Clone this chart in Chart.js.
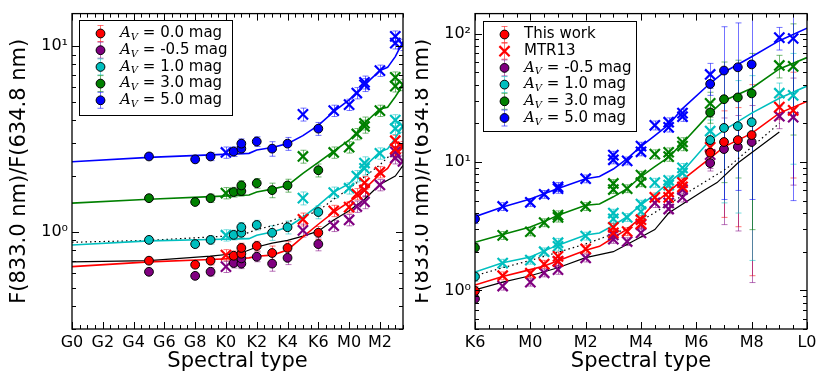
<!DOCTYPE html>
<html lang="en">
<head>
<meta charset="UTF-8">
<title>F(833.0 nm)/F(634.8 nm) vs spectral type</title>
<script src="https://cdn.jsdelivr.net/npm/chart.js"></script>
<style>
    body { margin: 0; background: #fff; }
    #wrap { position: relative; width: 830px; height: 388px; }
    canvas { position: absolute; top: 0; }
    #left { left: 0; }
    #right { left: 415px; }
</style>
</head>
<body>
<div id="wrap">
    <canvas id="left" width="415" height="388"></canvas>
    <canvas id="right" width="415" height="388"></canvas>
</div>
<script>
// ---- tick labels ----
const leftTicks = ['G0', 'G2', 'G4', 'G6', 'G8', 'K0', 'K2', 'K4', 'K6', 'M0', 'M2'];
const rightTicks = ['K6', 'M0', 'M2', 'M4', 'M6', 'M8', 'L0'];
const leftDecades = [1, 10];
const rightDecades = [1, 10, 100];
const decadeLabels = ['10⁰', '10¹', '10²'];

// ---- this work (circles) ----
const workTypes = ['G5', 'G8', 'G9', 'K0.5', 'K1', 'K1', 'K2', 'K3', 'K4', 'K6', 'M6.5', 'M7', 'M7.5', 'M8'];
const workErr = [0.02, 0.03, 0.05, 0.06, 0.06, 0.06, 0.06, 0.09, 0.08, 0.08, null, null, null, null];
const workRed = [0.70, 0.666, 0.70, 0.744, 0.763, 0.82, 0.84, 0.77, 0.82, 0.99, 11.8, 14.3, 14.8, 16.2];
const workPurple = [0.61, 0.58, 0.61, 0.68, 0.675, 0.72, 0.735, 0.675, 0.725, 0.86, 9.8, 12.6, 13.1, 14.3];
const workCyan = [0.906, 0.86, 0.906, 0.964, 0.99, 1.06, 1.09, 0.99, 1.06, 1.28, 14.8, 18.4, 19.0, 20.4];
const workGreen = [1.52, 1.45, 1.52, 1.64, 1.66, 1.78, 1.83, 1.68, 1.78, 2.15, 24.3, 30.8, 31.8, 34.2];
const workBlue = [2.55, 2.46, 2.55, 2.71, 2.81, 2.99, 3.07, 2.81, 2.99, 3.6, 40.5, 51.5, 54.6, 57.5];

// ---- MTR13 (crosses) ----
const mtrTypes = ['K0', 'K5', 'K7', 'M0', 'M0.5', 'M1', 'M1', 'M2', 'M3', 'M3', 'M3.5', 'M4', 'M4',
    'M4.5', 'M5', 'M5', 'M5.5', 'M5.5', 'M6.5', 'M9', 'M9.5'];
const mtrErr = [0.07, 0.08, 0.07, 0.07, 0.07, 0.08, 0.08, 0.07, 0.07, 0.07, 0.07, 0.07, 0.07,
    0.08, 0.08, 0.08, 0.08, 0.08, 0.22, 0.2, null];
const mtrRed = [0.75, 1.17, 1.3, 1.36, 1.6, 1.84, 1.68, 2.1, 3.1, 2.8, 2.87, 3.55, 3.3, 5.3, 5.85, 5.3, 6.9, 6.4, 13, 26.7, 25.2];
const mtrPurple = [0.65, 1.02, 1.08, 1.16, 1.37, 1.68, 1.45, 1.79, 2.7, 2.5, 2.4, 3.25, 2.8, 4.8, 4.8, 4.3, 6.1, 5.3, 11.4, 22.7, 22.3];
const mtrCyan = [0.96, 1.52, 1.63, 1.72, 2.0, 2.35, 2.2, 2.65, 4.0, 3.6, 3.7, 4.7, 4.1, 6.9, 7.2, 6.6, 9.0, 8.2, 17.4, 34.3, 33];
const mtrGreen = [1.62, 2.55, 2.68, 2.86, 3.37, 3.85, 3.7, 4.5, 6.8, 6.1, 6.2, 7.9, 6.9, 11.5, 11.9, 11.0, 14.3, 13.3, 28.6, 56.4, 55.5];
const mtrBlue = [2.68, 4.3, 4.5, 4.85, 5.6, 6.4, 6.2, 7.4, 11.3, 10.4, 10.2, 13.3, 12.0, 19.3, 20.4, 18.6, 24, 22.5, 48, 93, 91.5];

// bar ends for the large late-M errors: M6.5, M7, M7.5, M8 circles, then the M9.5 cross
const redBarLo = [10, 3.7, 3.13, 1.3, 7.5];
const redBarHi = [14, 25, 26.5, 40, 50];
const purpleBarLo = [8.5, 3.25, 2.9, 1.15, 6.6];
const purpleBarHi = [11.5, 22, 23, 27.5, 45];
const cyanBarLo = [12.5, 4.8, 4.0, 1.71, 9.6];
const cyanBarHi = [17.5, 32, 43, 47, 70];
const greenBarLo = [20, 6.9, 7.5, 2.97, 16.2];
const greenBarHi = [29, 60, 62, 70, 119];
const blueBarLo = [33, 5.1, 6, 5.1, 5];
const blueBarHi = [50, 113, 121, 170, 180];

// ---- model curves ----
const modelTypes = ['G0', 'G5', 'G9', 'K1.5', 'K2', 'K3', 'K4', 'K5', 'K6', 'K7', 'M0', 'M0.5', 'M1', 'M2',
    'M2.5', 'M3', 'M3.5', 'M4', 'M4.5', 'M5', 'M5.5', 'M6.5', 'M7', 'M8', 'M9', 'L0'];
const modelRed = [0.65, 0.69, 0.71, 0.725, 0.74, 0.75, 0.8, 0.94, 1.1, 1.28, 1.45, 1.55, 1.7, 2.05,
    2.2, 2.57, 3.0, 3.68, 4.8, 5.85, 7.25, 10.7, 13.1, 16.7, 24, 29.6];
const modelCyan = [0.85, 0.895, 0.91, 0.92, 0.96, 1.0, 1.06, 1.2, 1.39, 1.64, 1.82, 2.03, 2.25, 2.7,
    2.8, 3.2, 3.75, 4.63, 5.6, 6.9, 8.4, 14.8, 17.7, 24, 31.3, 39];
const modelGreen = [1.43, 1.5, 1.55, 1.58, 1.64, 1.7, 1.78, 2.07, 2.37, 2.72, 3.12, 3.43, 3.85, 4.6,
    4.7, 5.35, 6.2, 7.7, 9.2, 10.9, 14, 24, 30, 37.5, 53, 65];
const modelBlue = [2.39, 2.52, 2.6, 2.65, 2.76, 2.85, 2.99, 3.3, 3.75, 4.45, 5.15, 5.65, 6.2, 7.4,
    7.7, 8.8, 10.6, 13.2, 16, 19.5, 26, 41, 50, 66, 88, 110];
const blackTypes = ['G0', 'G5', 'G9', 'K1', 'K2', 'K3', 'K4', 'K5', 'K6', 'K7', 'M0', 'M1', 'M2', 'M3',
    'M4', 'M4.5', 'M5', 'M6.3', 'M6.75', 'M7.5', 'M9'];
const blackModel = [0.69, 0.7, 0.74, 0.77, 0.83, 0.87, 0.9, 0.95, 1.01, 1.16, 1.3, 1.5, 1.8, 2.0,
    2.6, 2.97, 4.0, 6.05, 6.9, 9.8, 17.1];
const dottedTypes = ['G0', 'G5', 'K1', 'K2', 'K4', 'K6', 'K7', 'M0', 'M1', 'M2', 'M3', 'M3.5', 'M4.3', 'M7.1', 'M9'];
const dottedModel = [0.88, 0.9, 0.96, 1.03, 1.13, 1.3, 1.5, 1.71, 1.98, 2.3, 2.75, 3.05, 3.8, 8.9, 20];

const legendAv = ['0.0', '-0.5', '1.0', '3.0', '5.0'];

// ---- helpers ----
const classStart = { G: 0, K: 10, M: 18, L: 28 };
function spt(s) {
    return classStart[s[0]] + parseFloat(s.slice(1));
}
function pts(types, vals) {
    return types.map((t, i) => ({ x: spt(t), y: vals[i] }));
}
function bars(vals, rel, lo, hi, k) {
    const l = [], h = [];
    vals.forEach((v, i) => {
        if (rel[i] != null) {
            l.push(v * (1 - rel[i]));
            h.push(v * (1 + rel[i]));
        } else {
            l.push(lo[k]);
            h.push(hi[k]);
            k++;
        }
    });
    return [l, h];
}

const series = [
    { av: '0.0', colour: '#ff0000', bar: 'rgba(255,0,0,0.55)', work: workRed, mtr: mtrRed, model: modelRed, lo: redBarLo, hi: redBarHi },
    { av: '-0.5', colour: '#800080', bar: 'rgba(128,0,128,0.55)', work: workPurple, mtr: mtrPurple, model: null, lo: purpleBarLo, hi: purpleBarHi },
    { av: '1.0', colour: '#00bfbf', bar: 'rgba(0,191,191,0.55)', work: workCyan, mtr: mtrCyan, model: modelCyan, lo: cyanBarLo, hi: cyanBarHi },
    { av: '3.0', colour: '#008000', bar: 'rgba(0,128,0,0.55)', work: workGreen, mtr: mtrGreen, model: modelGreen, lo: greenBarLo, hi: greenBarHi },
    { av: '5.0', colour: '#0000ff', bar: 'rgba(0,0,255,0.55)', work: workBlue, mtr: mtrBlue, model: modelBlue, lo: blueBarLo, hi: blueBarHi }
];

const CIRCLE_R = 4.4;
const CROSS_R = 7.2;

function makeDatasets() {
    const out = [];
    out.push({ type: 'line', data: pts(blackTypes, blackModel), borderColor: '#000', borderWidth: 1.2,
        pointRadius: 0, tension: 0, fill: false, order: 4, clip: 0 });
    out.push({ type: 'line', data: pts(dottedTypes, dottedModel), borderColor: '#000', borderWidth: 1.2,
        borderDash: [1.5, 3], pointRadius: 0, tension: 0, fill: false, order: 4, clip: 0 });
    series.forEach(s => {
        if (s.model) {
            out.push({ type: 'line', data: pts(modelTypes, s.model), borderColor: s.colour, borderWidth: 1.6,
                pointRadius: 0, tension: 0, fill: false, order: 3, clip: 0 });
        }
        const mb = bars(s.mtr, mtrErr, s.lo, s.hi, 4);
        out.push({ data: pts(mtrTypes, s.mtr), pointStyle: 'crossRot', pointRadius: CROSS_R,
            pointBorderWidth: 2.2, borderColor: s.colour, backgroundColor: s.colour, showLine: false,
            order: 2, clip: 0, errLo: mb[0], errHi: mb[1], errColour: s.bar });
        const wb = bars(s.work, workErr, s.lo, s.hi, 0);
        out.push({ data: pts(workTypes, s.work), pointStyle: 'circle', pointRadius: CIRCLE_R,
            pointBorderWidth: 1, borderColor: '#000', backgroundColor: s.colour, showLine: false,
            order: 1, clip: 0, errLo: wb[0], errHi: wb[1], errColour: s.bar });
    });
    return out;
}

// error bars drawn under the markers
const errorBars = {
    id: 'errorBars',
    beforeDatasetsDraw(chart) {
        const { ctx, chartArea: a, scales: { x, y } } = chart;
        ctx.save();
        ctx.beginPath();
        ctx.rect(a.left, a.top, a.width, a.height);
        ctx.clip();
        ctx.lineWidth = 1;
        chart.data.datasets.forEach(ds => {
            if (!ds.errLo) return;
            ctx.strokeStyle = ds.errColour;
            ctx.beginPath();
            ds.data.forEach((p, i) => {
                const px = Math.round(x.getPixelForValue(p.x)) + 0.5;
                const lo = ds.errLo[i] > 0 ? y.getPixelForValue(ds.errLo[i]) : a.bottom + 10;
                const hi = y.getPixelForValue(ds.errHi[i]);
                ctx.moveTo(px, lo); ctx.lineTo(px, hi);
                ctx.moveTo(px - 3, lo); ctx.lineTo(px + 3, lo);
                ctx.moveTo(px - 3, hi); ctx.lineTo(px + 3, hi);
            });
            ctx.stroke();
        });
        ctx.restore();
    }
};

// matplotlib style frame with inward ticks on all sides
const frame = {
    id: 'frame',
    afterDatasetsDraw(chart) {
        const { ctx, chartArea: a, scales: { x, y } } = chart;
        ctx.save();
        ctx.strokeStyle = '#000';
        ctx.lineWidth = 1;
        ctx.beginPath();
        for (let v = Math.ceil(x.min * 2) / 2; v <= x.max + 1e-9; v += 0.5) {
            const px = Math.round(x.getPixelForValue(v)) + 0.5;
            const len = v % 2 === 0 ? 7 : 4;
            ctx.moveTo(px, a.bottom); ctx.lineTo(px, a.bottom - len);
            ctx.moveTo(px, a.top); ctx.lineTo(px, a.top + len);
        }
        for (let d = Math.floor(Math.log10(y.min)); d <= Math.ceil(Math.log10(y.max)); d++) {
            for (let m = 1; m < 10; m++) {
                const v = m * Math.pow(10, d);
                if (v < y.min || v > y.max) continue;
                const py = Math.round(y.getPixelForValue(v)) + 0.5;
                const len = m === 1 ? 7 : 4;
                ctx.moveTo(a.left, py); ctx.lineTo(a.left + len, py);
                ctx.moveTo(a.right, py); ctx.lineTo(a.right - len, py);
            }
        }
        ctx.stroke();
        ctx.lineWidth = 1.3;
        ctx.strokeRect(a.left, a.top, a.width, a.height);
        ctx.restore();
    }
};

function legendPlugin(rows, dx, dy, w, h) {
    return {
        id: 'legendBox',
        afterDraw(chart) {
            const { ctx, chartArea: a } = chart;
            const bx = Math.round(a.left + dx), by = Math.round(a.top + dy);
            ctx.save();
            ctx.fillStyle = '#fff';
            ctx.fillRect(bx, by, w, h);
            ctx.strokeStyle = '#000';
            ctx.lineWidth = 1;
            ctx.strokeRect(bx + 0.5, by + 0.5, w, h);
            rows.forEach((r, i) => {
                const cy = by + 13.5 + i * 16.7;
                const mx = bx + 21.5;
                ctx.strokeStyle = r.bar;
                ctx.lineWidth = 1;
                ctx.beginPath();
                ctx.moveTo(mx, cy - 8); ctx.lineTo(mx, cy + 8);
                ctx.moveTo(mx - 3, cy - 8); ctx.lineTo(mx + 3, cy - 8);
                ctx.moveTo(mx - 3, cy + 8); ctx.lineTo(mx + 3, cy + 8);
                ctx.stroke();
                if (r.cross) {
                    const c = CROSS_R * Math.SQRT1_2;
                    ctx.strokeStyle = r.colour;
                    ctx.lineWidth = 2.2;
                    ctx.beginPath();
                    ctx.moveTo(mx - c, cy - c); ctx.lineTo(mx + c, cy + c);
                    ctx.moveTo(mx - c, cy + c); ctx.lineTo(mx + c, cy - c);
                    ctx.stroke();
                } else {
                    ctx.fillStyle = r.colour;
                    ctx.strokeStyle = '#000';
                    ctx.lineWidth = 1;
                    ctx.beginPath();
                    ctx.arc(mx, cy, CIRCLE_R, 0, Math.PI * 2);
                    ctx.fill();
                    ctx.stroke();
                }
                ctx.fillStyle = '#000';
                ctx.textAlign = 'left';
                ctx.textBaseline = 'middle';
                let tx = bx + 41;
                if (r.av != null) {
                    ctx.font = 'italic 15px "DejaVu Serif"';
                    ctx.fillText('A', tx, cy);
                    tx += ctx.measureText('A').width;
                    ctx.font = 'italic 10px "DejaVu Serif"';
                    ctx.fillText('V', tx, cy + 4);
                    tx += ctx.measureText('V').width;
                    ctx.font = '15px "DejaVu Sans"';
                    ctx.fillText(' = ' + r.av + ' mag', tx, cy);
                } else {
                    ctx.font = '15px "DejaVu Sans"';
                    ctx.fillText(r.text, tx, cy);
                }
            });
            ctx.restore();
        }
    };
}

const leftRows = series.map((s, i) => ({ av: legendAv[i], colour: s.colour, bar: s.bar }));
const rightRows = [
    { text: 'This work', colour: series[0].colour, bar: series[0].bar },
    { text: 'MTR13', colour: series[0].colour, bar: series[0].bar, cross: true }
].concat(series.slice(1).map((s, i) => ({ av: legendAv[i + 1], colour: s.colour, bar: s.bar })));

const tickFont = { family: 'DejaVu Sans', size: 16 };
const titleFont = { family: 'DejaVu Sans', size: 21 };

function makeChart(id, cfg) {
    return new Chart(document.getElementById(id), {
        type: 'scatter',
        data: { datasets: makeDatasets() },
        options: {
            responsive: false,
            animation: false,
            devicePixelRatio: 1,
            layout: { padding: { left: 0, right: cfg.padRight, top: 13, bottom: 0 } },
            plugins: { legend: { display: false }, tooltip: { enabled: false } },
            scales: {
                x: {
                    type: 'linear',
                    min: cfg.xMin,
                    max: cfg.xMax,
                    grid: { display: false, drawTicks: false },
                    border: { display: false },
                    afterBuildTicks: s => { s.ticks = cfg.xTicks.map(t => ({ value: spt(t) })); },
                    afterFit: s => { s.height = 59; },
                    ticks: {
                        autoSkip: false, maxRotation: 0, padding: 4, color: '#000', font: tickFont,
                        callback: (v, i) => cfg.xTicks[i]
                    },
                    title: { display: true, text: 'Spectral type', color: '#000', font: titleFont,
                        padding: { top: 0, bottom: 13.5 } }
                },
                y: {
                    type: 'logarithmic',
                    min: cfg.yMin,
                    max: cfg.yMax,
                    grid: { display: false, drawTicks: false },
                    border: { display: false },
                    afterBuildTicks: s => { s.ticks = cfg.decades.map(v => ({ value: v })); },
                    afterFit: s => { s.width = cfg.yWidth; },
                    ticks: {
                        autoSkip: false, padding: 4, color: '#000', font: tickFont,
                        callback: (v, i) => decadeLabels[i]
                    },
                    title: { display: true, text: 'F(833.0 nm)/F(634.8 nm)', color: '#000',
                        font: { family: 'DejaVu Sans', size: 21, lineHeight: 1 },
                        padding: { top: cfg.yTitlePad, bottom: 0 } }
                }
            }
        },
        plugins: [errorBars, frame, legendPlugin(cfg.rows, cfg.lx, cfg.ly, cfg.lw, cfg.lh)]
    });
}

makeChart('left', {
    xMin: 0, xMax: 21.5, xTicks: leftTicks, yMin: 0.3, yMax: 15, decades: leftDecades,
    yWidth: 72, padRight: 12, yTitlePad: 9.5,
    rows: leftRows, lx: 7, ly: 6, lw: 153, lh: 95
});
makeChart('right', {
    xMin: 16, xMax: 28, xTicks: rightTicks, yMin: 0.5, yMax: 143, decades: rightDecades,
    yWidth: 60, padRight: 23, yTitlePad: -2.5,
    rows: rightRows, lx: 8, ly: 7, lw: 153, lh: 110
});
</script>
</body>
</html>
